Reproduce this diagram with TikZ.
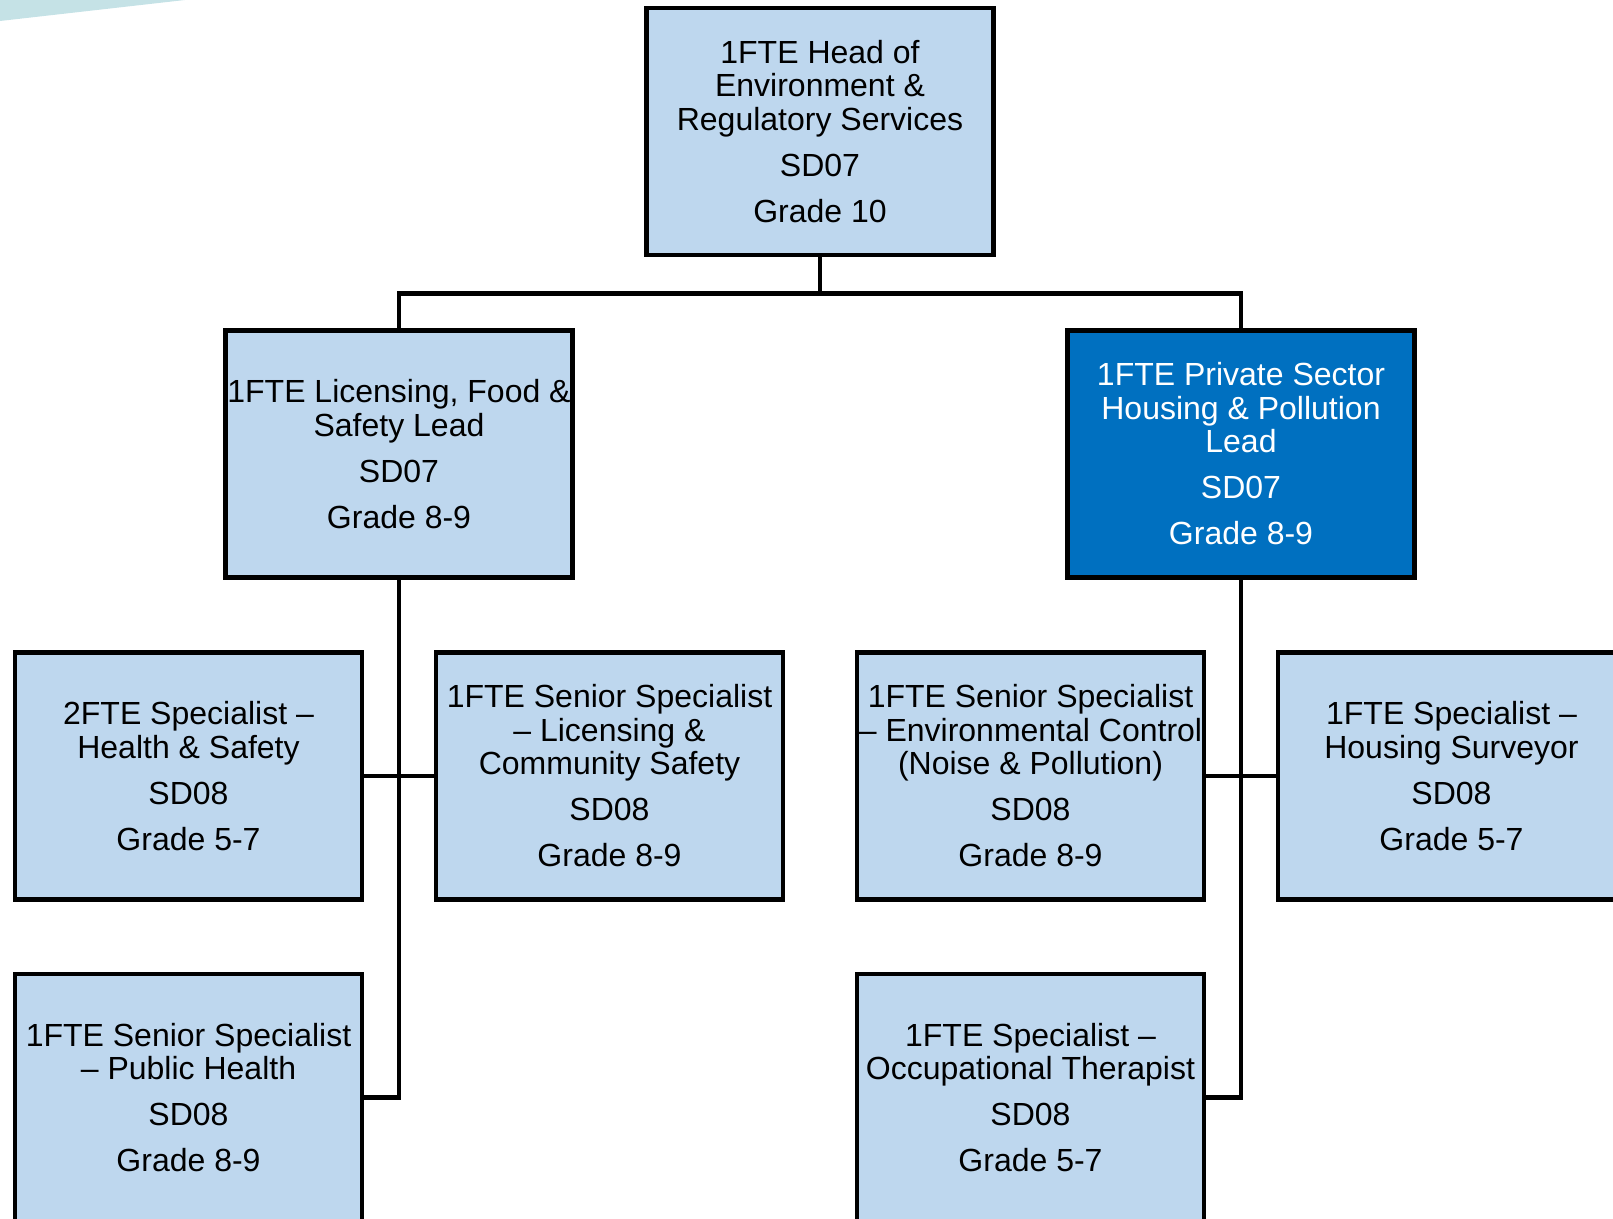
\documentclass[tikz,border=0pt]{standalone}
\usepackage{fontspec}
\setmainfont{Liberation Sans}
\usepackage{xcolor}
\usetikzlibrary{positioning}
\definecolor{boxblue}{RGB}{190,215,238}
\definecolor{leadblue}{RGB}{0,112,192}
\definecolor{wedgeteal}{RGB}{197,226,230}

\begin{document}
\begin{tikzpicture}[x=0.5pt,y=-0.5pt,on grid,
  every node/.style={draw,line width=2.3pt,fill=boxblue,align=center,inner sep=0pt,
                     font={\fontsize{16}{16.75}\selectfont},
                     minimum width=173.5pt,minimum height=123.5pt},
  dark/.style={fill=leadblue,text=white},
  wire/.style={line width=2.3pt}]
\useasboundingbox (0,0) rectangle (1613,1219);
\fill[wedgeteal] (0,0) -- (185,0) -- (0,21) -- cycle;

\node (head) at (820,131.5) {1FTE Head of\\Environment \&\\Regulatory Services\\[6.25pt]SD07\\[6.25pt]Grade 10};
\node (lic)  [below left=161.25pt and 210.5pt of head]  {1FTE Licensing, Food \&\\Safety Lead\\[6.25pt]SD07\\[6.25pt]Grade 8-9};
\node (psh)  [dark,below right=161.25pt and 210.5pt of head] {1FTE Private Sector\\Housing \& Pollution\\Lead\\[6.25pt]SD07\\[6.25pt]Grade 8-9};

\node (hs)   [below left=161pt and 105.25pt of lic]  {2FTE Specialist –\\Health \& Safety\\[6.25pt]SD08\\[6.25pt]Grade 5-7};
\node (lcs)  [below right=161pt and 105.25pt of lic] {1FTE Senior Specialist\\– Licensing \&\\Community Safety\\[6.25pt]SD08\\[6.25pt]Grade 8-9};
\node (ph)   [below=160.75pt of hs] {1FTE Senior Specialist\\– Public Health\\[6.25pt]SD08\\[6.25pt]Grade 8-9};

\node (env)  [below left=161pt and 105.25pt of psh]  {1FTE Senior Specialist\\– Environmental Control\\(Noise \& Pollution)\\[6.25pt]SD08\\[6.25pt]Grade 8-9};
\node (hsurv)[below right=161pt and 105.25pt of psh] {1FTE Specialist –\\Housing Surveyor\\[6.25pt]SD08\\[6.25pt]Grade 5-7};
\node (ot)   [below=160.75pt of env] {1FTE Specialist –\\Occupational Therapist\\[6.25pt]SD08\\[6.25pt]Grade 5-7};

\draw[wire] (head.south) -- ++(0,36) coordinate (bus) -| (lic.north);
\draw[wire] (bus) -| (psh.north);
\draw[wire] (lic.south) |- (ph.east);
\draw[wire] (hs.east) -- (lcs.west);
\draw[wire] (psh.south) |- (ot.east);
\draw[wire] (env.east) -- (hsurv.west);
\end{tikzpicture}
\end{document}
